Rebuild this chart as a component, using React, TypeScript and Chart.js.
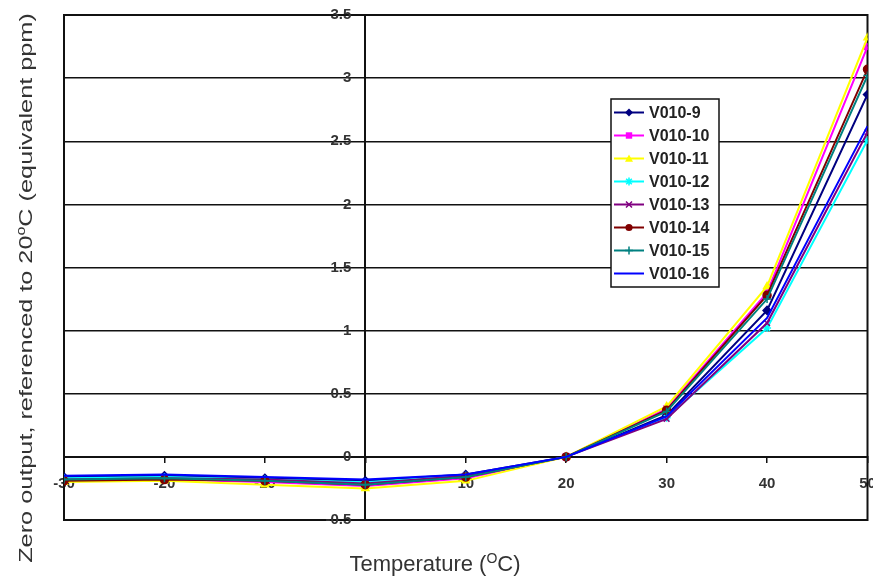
import React, { useEffect, useRef } from 'react';
import { Chart, registerables } from 'chart.js';

Chart.register(...registerables);

const FONT = '"Liberation Sans", Arial, sans-serif';

const temperatures = [-30, -20, -10, 0, 10, 20, 30, 40, 50];
const seriesNames = ['V010-9', 'V010-10', 'V010-11', 'V010-12', 'V010-13', 'V010-14', 'V010-15', 'V010-16'];
const v010_9 = [-0.16, -0.15, -0.17, -0.19, -0.14, 0, 0.33, 1.16, 2.87];
const v010_10 = [-0.19, -0.18, -0.2, -0.23, -0.17, 0, 0.38, 1.3, 3.25];
const v010_11 = [-0.2, -0.19, -0.22, -0.25, -0.19, 0, 0.4, 1.35, 3.32];
const v010_12 = [-0.17, -0.16, -0.18, -0.2, -0.15, 0, 0.31, 1.02, 2.51];
const v010_13 = [-0.18, -0.17, -0.18, -0.21, -0.15, 0, 0.3, 1.06, 2.57];
const v010_14 = [-0.19, -0.18, -0.19, -0.22, -0.16, 0, 0.37, 1.28, 3.07];
const v010_15 = [-0.18, -0.17, -0.19, -0.22, -0.16, 0, 0.36, 1.25, 3.02];
const v010_16 = [-0.15, -0.14, -0.16, -0.18, -0.14, 0, 0.32, 1.1, 2.62];
const seriesValues = [v010_9, v010_10, v010_11, v010_12, v010_13, v010_14, v010_15, v010_16];
const seriesColors = ['#000080', '#FF00FF', '#FFFF00', '#00FFFF', '#800080', '#800000', '#008080', '#0000FF'];
const seriesMarkers = ['rectRot', 'rect', 'triangle', 'star', 'crossRot', 'circle', 'cross', 'none'];

const xMin = -30;
const xMax = 50;
const xStep = 10;
const yMin = -0.5;
const yMax = 3.5;
const yStep = 0.5;

const xTitleParts = [
  { t: 'Temperature (', sup: false },
  { t: 'O', sup: true },
  { t: 'C)', sup: false },
];
const yTitleParts = [
  { t: 'Zero output, referenced to 20', sup: false },
  { t: 'o', sup: true },
  { t: 'C (equivalent ppm)', sup: false },
];

type Part = { t: string; sup: boolean };

function drawParts(ctx: CanvasRenderingContext2D, parts: Part[], big: string, small: string, rise: number) {
  let w = 0;
  for (const p of parts) {
    ctx.font = p.sup ? small : big;
    w += ctx.measureText(p.t).width;
  }
  let x = -w / 2;
  ctx.textAlign = 'left';
  ctx.textBaseline = 'alphabetic';
  for (const p of parts) {
    ctx.font = p.sup ? small : big;
    ctx.fillText(p.t, x, p.sup ? -rise : 0);
    x += ctx.measureText(p.t).width;
  }
}

function drawMarker(ctx: CanvasRenderingContext2D, style: string, x: number, y: number, r: number, color: string) {
  ctx.save();
  ctx.fillStyle = color;
  ctx.strokeStyle = color;
  ctx.lineWidth = 1.5;
  ctx.beginPath();
  switch (style) {
    case 'rectRot':
      ctx.moveTo(x, y - r);
      ctx.lineTo(x + r, y);
      ctx.lineTo(x, y + r);
      ctx.lineTo(x - r, y);
      ctx.closePath();
      ctx.fill();
      break;
    case 'rect':
      ctx.fillRect(x - r * 0.8, y - r * 0.8, r * 1.6, r * 1.6);
      break;
    case 'triangle':
      ctx.moveTo(x, y - r);
      ctx.lineTo(x + r, y + r * 0.8);
      ctx.lineTo(x - r, y + r * 0.8);
      ctx.closePath();
      ctx.fill();
      break;
    case 'circle':
      ctx.arc(x, y, r * 0.9, 0, Math.PI * 2);
      ctx.fill();
      break;
    case 'cross':
      ctx.moveTo(x - r, y);
      ctx.lineTo(x + r, y);
      ctx.moveTo(x, y - r);
      ctx.lineTo(x, y + r);
      ctx.stroke();
      break;
    case 'crossRot':
      ctx.moveTo(x - r * 0.75, y - r * 0.75);
      ctx.lineTo(x + r * 0.75, y + r * 0.75);
      ctx.moveTo(x + r * 0.75, y - r * 0.75);
      ctx.lineTo(x - r * 0.75, y + r * 0.75);
      ctx.stroke();
      break;
    case 'star':
      ctx.moveTo(x - r, y);
      ctx.lineTo(x + r, y);
      ctx.moveTo(x, y - r);
      ctx.lineTo(x, y + r);
      ctx.moveTo(x - r * 0.7, y - r * 0.7);
      ctx.lineTo(x + r * 0.7, y + r * 0.7);
      ctx.moveTo(x + r * 0.7, y - r * 0.7);
      ctx.lineTo(x - r * 0.7, y + r * 0.7);
      ctx.stroke();
      break;
    default:
      break;
  }
  ctx.restore();
}

const framePlugin = {
  id: 'frameAndLabels',
  beforeDatasetsDraw(chart: any) {
    const { ctx, chartArea: a, scales } = chart;
    ctx.save();
    ctx.strokeStyle = '#111';
    ctx.lineWidth = 2;
    ctx.strokeRect(a.left, a.top, a.right - a.left, a.bottom - a.top);
    // y tick labels next to the y axis at x = 0
    const xs = scales.x;
    const ys = scales.y;
    const axisX = xs.getPixelForValue(0);
    ctx.fillStyle = '#333';
    ctx.font = 'bold 15px ' + FONT;
    ctx.textAlign = 'right';
    ctx.textBaseline = 'middle';
    for (const tk of ys.ticks) {
      ctx.fillText(String(tk.value), axisX - 14, ys.getPixelForValue(tk.value));
    }
    ctx.restore();
  },
  afterDraw(chart: any) {
    const { ctx } = chart;
    ctx.save();
    // legend
    const bx = 611, by = 99, bw = 108, bh = 188;
    ctx.fillStyle = '#fff';
    ctx.fillRect(bx, by, bw, bh);
    ctx.strokeStyle = '#111';
    ctx.lineWidth = 1.5;
    ctx.strokeRect(bx, by, bw, bh);
    chart.data.datasets.forEach((ds: any, i: number) => {
      const yy = by + 13.5 + i * 23;
      ctx.strokeStyle = ds.borderColor;
      ctx.lineWidth = 2;
      ctx.beginPath();
      ctx.moveTo(bx + 3, yy);
      ctx.lineTo(bx + 33, yy);
      ctx.stroke();
      drawMarker(ctx, seriesMarkers[i], bx + 18, yy, 4, ds.borderColor);
      ctx.fillStyle = '#222';
      ctx.font = 'bold 16px ' + FONT;
      ctx.textAlign = 'left';
      ctx.textBaseline = 'middle';
      ctx.fillText(ds.label, bx + 38, yy + 1);
    });
    // axis titles
    ctx.fillStyle = '#333';
    ctx.save();
    ctx.translate(435, 571);
    drawParts(ctx, xTitleParts as Part[], '22px ' + FONT, '14px ' + FONT, 8);
    ctx.restore();
    ctx.save();
    ctx.translate(32, 288);
    ctx.rotate(-Math.PI / 2);
    ctx.scale(1.33, 1);
    drawParts(ctx, yTitleParts as Part[], '19px ' + FONT, '12px ' + FONT, 7);
    ctx.restore();
    ctx.restore();
  },
};

export default function App() {
  const ref = useRef<HTMLCanvasElement | null>(null);
  useEffect(() => {
    if (!ref.current) return;
    const datasets = seriesNames.map((name, i) => ({
      label: name,
      data: temperatures.map((t, j) => ({ x: t, y: seriesValues[i][j] })),
      borderColor: seriesColors[i],
      backgroundColor: seriesColors[i],
      borderWidth: 2,
      tension: 0,
      pointStyle: seriesMarkers[i] === 'none' ? 'circle' : seriesMarkers[i],
      pointRadius: seriesMarkers[i] === 'none' ? 0 : 4,
      pointBorderWidth: 1.5,
      order: seriesNames.length - i,
    }));
    const chart = new Chart(ref.current, {
      type: 'line',
      data: { datasets },
      plugins: [framePlugin],
      options: {
        animation: false,
        responsive: false,
        devicePixelRatio: 1,
        layout: { padding: { left: 64, right: 4, top: 15, bottom: 62 } },
        plugins: { legend: { display: false }, tooltip: { enabled: false }, title: { display: false } },
        scales: {
          x: {
            type: 'linear',
            min: xMin,
            max: xMax,
            position: { y: 0 } as any,
            ticks: {
              stepSize: xStep,
              autoSkip: false,
              maxRotation: 0,
              padding: 13,
              color: '#333',
              font: { family: FONT, size: 15, weight: 'bold' },
            },
            grid: { drawOnChartArea: false, drawTicks: true, tickLength: 5, color: '#111', lineWidth: 1.5 },
            border: { display: true, color: '#111', width: 2 },
            afterFit: (scale: any) => {
              scale.paddingLeft = 0;
              scale.paddingRight = 0;
            },
          },
          y: {
            type: 'linear',
            min: yMin,
            max: yMax,
            position: { x: 0 } as any,
            ticks: { stepSize: yStep, display: false },
            grid: { color: '#111', lineWidth: 1.5, drawTicks: false },
            border: { display: true, color: '#111', width: 2 },
            afterFit: (scale: any) => {
              scale.paddingTop = 0;
              scale.paddingBottom = 0;
            },
          },
        },
      } as any,
    });
    return () => chart.destroy();
  }, []);
  return (
    <div style={{ position: 'absolute', left: 0, top: 0, width: 873, height: 582, background: '#fff' }}>
      <canvas ref={ref} width={873} height={582} style={{ display: 'block' }} />
    </div>
  );
}
